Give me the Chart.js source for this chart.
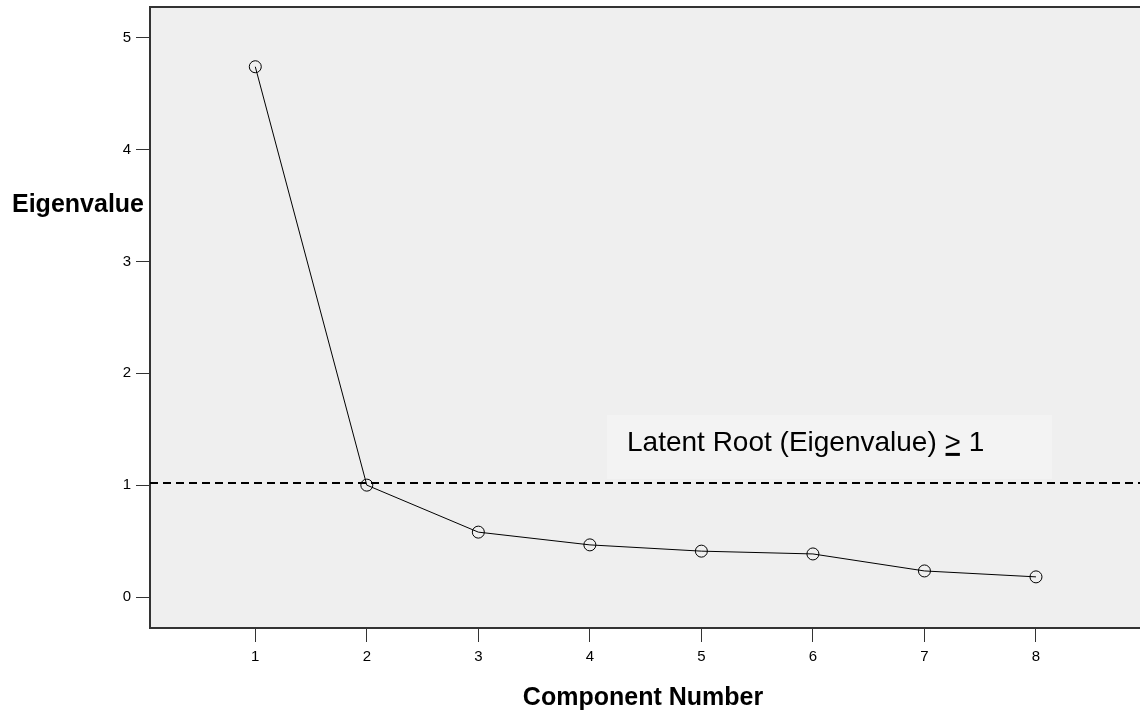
<!DOCTYPE html>
<html>
<head>
<meta charset="utf-8">
<script src="https://cdn.jsdelivr.net/npm/chart.js@4/dist/chart.umd.min.js"></script>
<style>
  html, body { margin: 0; padding: 0; background: #ffffff; overflow: hidden; }
  #wrap { width: 1140px; height: 713px; position: relative; }
  canvas { display: block; }
</style>
</head>
<body>
<div id="wrap"><canvas id="c" width="1140" height="713"></canvas></div>
<script>
// ---- data ----
const components = [1, 2, 3, 4, 5, 6, 7, 8];
const eigenvalues = [4.74, 1.00, 0.58, 0.466, 0.41, 0.385, 0.233, 0.18];
const xTickValues = [1, 2, 3, 4, 5, 6, 7, 8];
const yTickValues = [0, 1, 2, 3, 4, 5];
const cutoffValue = 1.02;
const xTitle = 'Component Number';
const yTitle = 'Eigenvalue';
const cutoffLabelParts = ['Latent Root (Eigenvalue) ', '>', ' 1'];

const FONT = '"Liberation Sans", Arial, Helvetica, sans-serif';

const decorPlugin = {
  id: 'decor',
  beforeDraw(chart) {
    const { ctx, chartArea: a } = chart;
    ctx.save();
    ctx.fillStyle = '#efefef';
    ctx.fillRect(a.left, a.top, chart.width - a.left, a.bottom - a.top);
    ctx.fillStyle = '#f3f3f3';
    ctx.fillRect(607, 415, 445, 64);
    ctx.restore();
  },
  beforeDatasetsDraw(chart) {
    const { ctx, chartArea: a, scales } = chart;
    const y = scales.y.getPixelForValue(cutoffValue);
    ctx.save();
    ctx.strokeStyle = '#000';
    ctx.lineWidth = 2;
    ctx.setLineDash([8, 5]);
    ctx.beginPath();
    ctx.moveTo(a.left, y);
    ctx.lineTo(chart.width, y);
    ctx.stroke();
    ctx.setLineDash([]);
    ctx.fillStyle = '#000';
    ctx.font = '28px ' + FONT;
    ctx.textBaseline = 'alphabetic';
    ctx.textAlign = 'left';
    let x = 627;
    const base = y - 32;
    cutoffLabelParts.forEach((p, i) => {
      ctx.fillText(p, x, base);
      const w = ctx.measureText(p).width;
      if (i === 1) ctx.fillRect(x + 1, base + 2, w - 2, 3);
      x += w;
    });
    ctx.restore();
  },
  afterDraw(chart) {
    const { ctx, chartArea: a } = chart;
    ctx.save();
    ctx.strokeStyle = '#333';
    ctx.lineWidth = 2;
    ctx.beginPath();
    ctx.moveTo(a.left - 1, a.top);
    ctx.lineTo(chart.width, a.top);
    ctx.moveTo(a.left - 1, a.bottom);
    ctx.lineTo(chart.width, a.bottom);
    ctx.stroke();
    ctx.fillStyle = '#000';
    ctx.font = 'bold 25px ' + FONT;
    ctx.textAlign = 'center';
    ctx.textBaseline = 'alphabetic';
    ctx.fillText(xTitle, 643, 705);
    ctx.fillText(yTitle, 78, 212);
    ctx.restore();
  }
};

function zeroPad(s) {
  s.paddingTop = 0; s.paddingBottom = 0; s.paddingLeft = 0; s.paddingRight = 0;
}

new Chart(document.getElementById('c'), {
  type: 'line',
  data: {
    datasets: [{
      data: components.map((c, i) => ({ x: c, y: eigenvalues[i] })),
      borderColor: '#000', borderWidth: 1, tension: 0,
      pointRadius: 6, pointHoverRadius: 6, pointBorderWidth: 1,
      pointBorderColor: '#000', pointBackgroundColor: 'rgba(0,0,0,0)', fill: false
    }]
  },
  options: {
    responsive: false,
    animation: false,
    devicePixelRatio: 1,
    layout: { padding: { top: 7, left: 0, right: 0, bottom: 0 } },
    plugins: { legend: { display: false }, tooltip: { enabled: false } },
    scales: {
      x: {
        type: 'linear', min: 0.056, max: 8.870,
        afterFit(s) { s.height = 85; zeroPad(s); },
        afterBuildTicks(s) { s.ticks = xTickValues.map(v => ({ value: v })); },
        grid: { drawOnChartArea: false, drawTicks: true, tickLength: 14, tickColor: '#333', tickWidth: 1 },
        border: { display: false },
        ticks: { color: '#000', font: { family: FONT, size: 15 }, padding: 6, maxRotation: 0, autoSkip: false }
      },
      y: {
        type: 'linear', min: -0.277, max: 5.274,
        afterFit(s) { s.width = 150; zeroPad(s); },
        afterBuildTicks(s) { s.ticks = yTickValues.map(v => ({ value: v })); },
        grid: { drawOnChartArea: false, drawTicks: true, tickLength: 14, tickColor: '#333', tickWidth: 1 },
        border: { display: true, color: '#333', width: 2 },
        ticks: { color: '#000', font: { family: FONT, size: 15 }, padding: 5 }
      }
    }
  },
  plugins: [decorPlugin]
});
</script>
</body>
</html>
